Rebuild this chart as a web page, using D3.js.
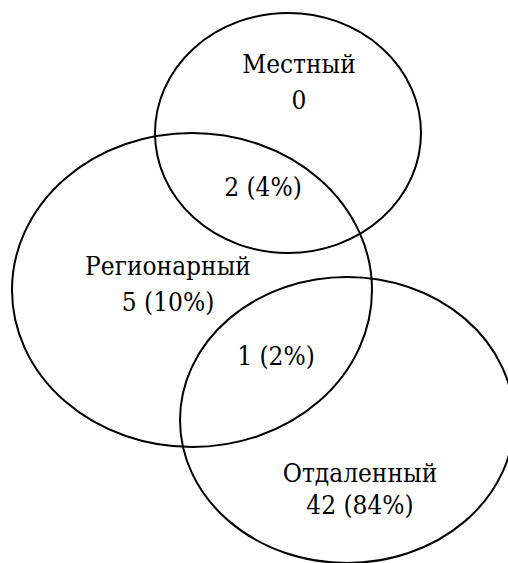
<!DOCTYPE html>
<html>
<head>
<meta charset="utf-8">
<script src="https://cdn.jsdelivr.net/npm/d3@7"></script>
<style>
  body { margin: 0; background: #fff; }
</style>
</head>
<body>
<svg id="venn"></svg>
<script>
// ---- data ----
var setNames = ['Местный', 'Регионарный', 'Отдаленный'];
var setCounts = [0, 5, 42];
var setPercents = [null, 10, 84];
var overlapNames = ['Местный ∩ Регионарный', 'Регионарный ∩ Отдаленный'];
var overlapCounts = [2, 1];
var overlapPercents = [4, 2];

var svgDimensions = { width: 508, height: 563 };
var fontSize = 26;
var fontFamily = "'DejaVu Serif Condensed', 'DejaVu Serif', serif";

// ellipse layout (pixels)
var ellipses = [
	{ cx: 288, cy: 133, rx: 133, ry: 120 },
	{ cx: 192, cy: 290, rx: 180, ry: 157 },
	{ cx: 347, cy: 420, rx: 167, ry: 143 }
];
var setLabelPos = [
	{ x: 299, y: 73, dy: 36 },
	{ x: 168, y: 275, dy: 36 },
	{ x: 360, y: 482, dy: 32 }
];
var overlapLabelPos = [
	{ x: 263, y: 196 },
	{ x: 276, y: 365 }
];

function fmt(count, pct) {
	return pct == null ? String(count) : count + ' (' + pct + '%)';
}

var x = d3.scaleLinear().domain([0, svgDimensions.width]).range([0, svgDimensions.width]);
var y = d3.scaleLinear().domain([0, svgDimensions.height]).range([0, svgDimensions.height]);

var svg = d3.select('#venn')
	.attr('width', svgDimensions.width)
	.attr('height', svgDimensions.height);

svg.selectAll('ellipse.set')
	.data(ellipses)
	.enter()
	.append('ellipse')
	.attr('class', 'set')
	.attr('cx', d => x(d.cx))
	.attr('cy', d => y(d.cy))
	.attr('rx', d => x(d.rx))
	.attr('ry', d => y(d.ry))
	.style('fill', 'none')
	.style('stroke', '#000')
	.style('stroke-width', 2);

function addText(sel) {
	return sel.attr('text-anchor', 'middle')
		.style('font-family', fontFamily)
		.style('font-stretch', 'condensed')
		.style('font-size', fontSize + 'px');
}

var setLabels = svg.selectAll('g.setLabel')
	.data(setNames)
	.enter()
	.append('g')
	.attr('class', 'setLabel');

setLabels.append('text')
	.attr('x', (d, i) => x(setLabelPos[i].x))
	.attr('y', (d, i) => y(setLabelPos[i].y))
	.call(addText)
	.text(d => d);

setLabels.append('text')
	.attr('x', (d, i) => x(setLabelPos[i].x))
	.attr('y', (d, i) => y(setLabelPos[i].y + setLabelPos[i].dy))
	.call(addText)
	.text((d, i) => fmt(setCounts[i], setPercents[i]));

svg.selectAll('text.overlap')
	.data(overlapNames)
	.enter()
	.append('text')
	.attr('class', 'overlap')
	.attr('x', (d, i) => x(overlapLabelPos[i].x))
	.attr('y', (d, i) => y(overlapLabelPos[i].y))
	.call(addText)
	.text((d, i) => fmt(overlapCounts[i], overlapPercents[i]));
</script>
</body>
</html>
